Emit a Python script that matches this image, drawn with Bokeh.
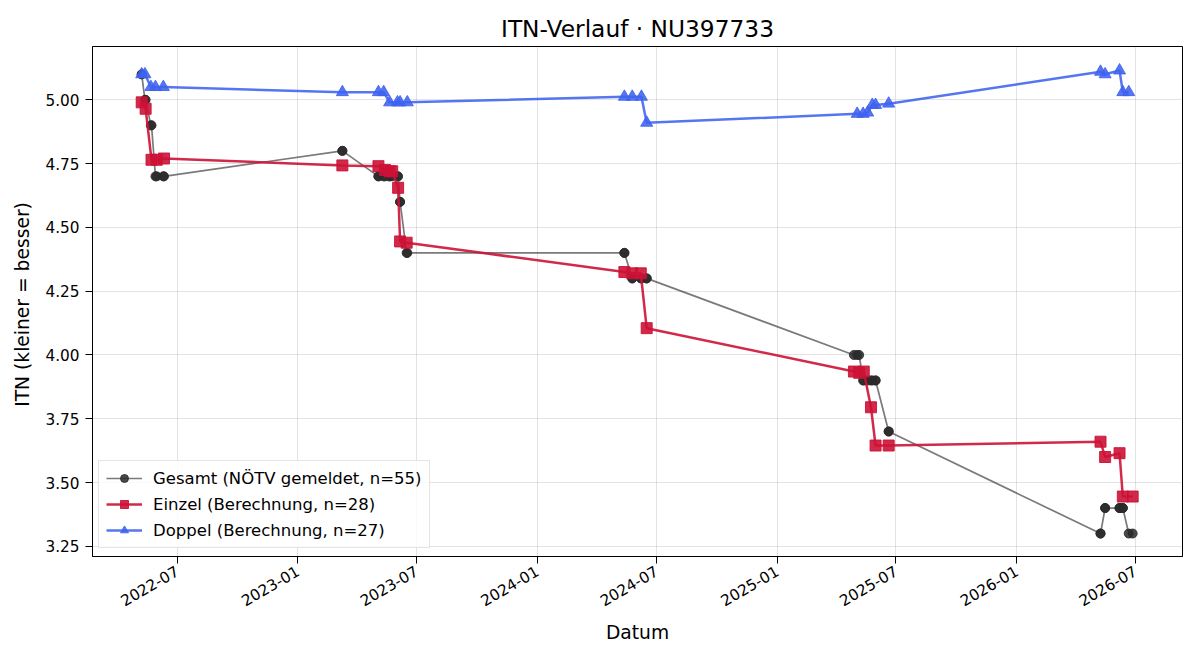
import math
import pandas as pd
from bokeh.plotting import figure
from bokeh.models import (ColumnDataSource, Range1d, FixedTicker, DatetimeTickFormatter,
                          NumeralTickFormatter, Legend, LegendItem)
from bokeh.embed import file_html
from bokeh.resources import INLINE

# --- data -------------------------------------------------------------------
gesamt_dates = [
    "2022-05-08", "2022-05-08", "2022-05-13", "2022-05-14", "2022-05-22", "2022-05-23",
    "2022-05-29", "2022-05-31", "2022-06-10", "2022-06-11",
    "2023-03-10", "2023-03-10", "2023-05-04", "2023-05-04", "2023-05-12", "2023-05-14",
    "2023-05-21", "2023-05-21", "2023-05-25", "2023-06-02", "2023-06-03", "2023-06-06",
    "2023-06-06", "2023-06-16", "2023-06-17",
    "2024-05-13", "2024-05-13", "2024-05-25", "2024-05-25", "2024-06-07", "2024-06-08",
    "2024-06-16", "2024-06-16",
    "2025-04-28", "2025-05-03", "2025-05-06", "2025-05-12", "2025-05-13", "2025-05-19",
    "2025-05-24", "2025-05-26", "2025-05-31", "2025-05-31", "2025-06-20", "2025-06-20",
    "2026-05-09", "2026-05-09", "2026-05-16", "2026-05-16", "2026-06-07", "2026-06-07",
    "2026-06-12", "2026-06-12", "2026-06-21", "2026-06-27",
]
gesamt_itn = [
    5.10, 5.10, 5.00, 5.00, 4.90, 4.90, 4.70, 4.70, 4.70, 4.70,
    4.80, 4.80, 4.70, 4.70, 4.70, 4.70, 4.70, 4.70, 4.70, 4.70, 4.70, 4.60, 4.60, 4.40, 4.40,
    4.40, 4.40, 4.30, 4.30, 4.30, 4.30, 4.30, 4.30,
    4.00, 4.00, 4.00, 3.90, 3.90, 3.90, 3.90, 3.90, 3.90, 3.90, 3.70, 3.70,
    3.30, 3.30, 3.40, 3.40, 3.40, 3.40, 3.40, 3.40, 3.30, 3.30,
]

einzel_dates = [
    "2022-05-08", "2022-05-14", "2022-05-23", "2022-05-31", "2022-06-11",
    "2023-03-10", "2023-05-04", "2023-05-14", "2023-05-21", "2023-05-25", "2023-06-03",
    "2023-06-06", "2023-06-16",
    "2024-05-13", "2024-05-25", "2024-06-07", "2024-06-16",
    "2025-04-28", "2025-05-06", "2025-05-13", "2025-05-24", "2025-05-31", "2025-06-20",
    "2026-05-09", "2026-05-16", "2026-06-07", "2026-06-12", "2026-06-27",
]
einzel_itn = [
    4.990, 4.965, 4.765, 4.765, 4.770,
    4.743, 4.740, 4.725, 4.720, 4.720, 4.655, 4.445, 4.440,
    4.325, 4.320, 4.320, 4.105,
    3.935, 3.930, 3.935, 3.795, 3.645, 3.645,
    3.660, 3.600, 3.615, 3.445, 3.445,
]

doppel_dates = [
    "2022-05-08", "2022-05-13", "2022-05-22", "2022-05-29", "2022-06-10",
    "2023-03-10", "2023-05-04", "2023-05-12", "2023-05-21", "2023-06-02", "2023-06-06",
    "2023-06-17",
    "2024-05-13", "2024-05-25", "2024-06-08", "2024-06-16",
    "2025-05-03", "2025-05-12", "2025-05-19", "2025-05-26", "2025-05-31", "2025-06-20",
    "2026-05-09", "2026-05-16", "2026-06-07", "2026-06-12", "2026-06-21",
]
doppel_itn = [
    5.100, 5.100, 5.050, 5.050, 5.050,
    5.030, 5.030, 5.030, 4.990, 4.990, 4.990, 4.990,
    5.012, 5.012, 5.012, 4.910,
    4.945, 4.945, 4.950, 4.980, 4.980, 4.985,
    5.110, 5.100, 5.115, 5.030, 5.030,
]

x_tick_dates = ["2022-07-01", "2023-01-01", "2023-07-01", "2024-01-01", "2024-07-01",
                "2025-01-01", "2025-07-01", "2026-01-01", "2026-07-01"]
y_ticks = [3.25, 3.50, 3.75, 4.00, 4.25, 4.50, 4.75, 5.00]

FONT = "DejaVu Sans"

src_g = ColumnDataSource(dict(x=pd.to_datetime(gesamt_dates), y=gesamt_itn))
src_e = ColumnDataSource(dict(x=pd.to_datetime(einzel_dates), y=einzel_itn))
src_d = ColumnDataSource(dict(x=pd.to_datetime(doppel_dates), y=doppel_itn))

p = figure(width=1200, height=660, x_axis_type="datetime",
           output_backend="svg", toolbar_location=None,
           x_range=Range1d(pd.Timestamp("2022-02-22"), pd.Timestamp("2026-09-11")),
           y_range=Range1d(3.21, 5.209),
           min_border_left=92, min_border_right=18, min_border_top=46, min_border_bottom=104)

p.title.text = "ITN-Verlauf · NU397733"
p.title.align = "center"
p.title.text_font = FONT
p.title.text_font_size = "23.3px"
p.title.text_font_style = "normal"
p.title.text_color = "black"
p.title.standoff = 10

p.outline_line_color = "black"
p.outline_line_alpha = 1
p.outline_line_width = 1
p.background_fill_color = "white"
p.border_fill_color = "white"

# axes
tick_ms = [pd.Timestamp(d).value / 1e6 for d in x_tick_dates]
p.xaxis.ticker = FixedTicker(ticks=tick_ms)
fmt = "%Y-%m"
p.xaxis.formatter = DatetimeTickFormatter(
    microseconds=fmt, milliseconds=fmt, seconds=fmt, minsec=fmt, minutes=fmt,
    hourmin=fmt, hours=fmt, days=fmt, months=fmt, years=fmt)
p.xaxis.major_label_orientation = math.pi / 6
p.yaxis.ticker = FixedTicker(ticks=y_ticks)
p.yaxis.formatter = NumeralTickFormatter(format="0.00")

p.xaxis.axis_label = "Datum"
p.yaxis.axis_label = "ITN  (kleiner = besser)"
for ax in (p.xaxis, p.yaxis):
    ax.axis_label_text_font = FONT
    ax.axis_label_text_font_size = "18.7px"
    ax.axis_label_text_font_style = "normal"
    ax.axis_label_text_color = "black"
    ax.major_label_text_font = FONT
    ax.major_label_text_font_size = "15.3px"
    ax.major_label_text_color = "black"
    ax.axis_line_color = "black"
    ax.major_tick_line_color = "black"
    ax.major_tick_out = 7
    ax.major_tick_in = 0
    ax.minor_tick_line_color = None
p.yaxis.major_label_standoff = 6
p.xaxis.major_label_standoff = 6
p.xaxis.axis_label_standoff = 7
p.yaxis.axis_label_standoff = 9

for g in (p.xgrid, p.ygrid):
    g.grid_line_color = "#b0b0b0"
    g.grid_line_alpha = 0.35
    g.grid_line_width = 1

# series
g_line = p.line("x", "y", source=src_g, line_color="#333333", line_alpha=0.65, line_width=1.7)
g_pts = p.scatter("x", "y", source=src_g, marker="circle", size=9,
                  fill_color="#2a2a2a", fill_alpha=0.85, line_color="#2a2a2a", line_alpha=0.85)

e_line = p.line("x", "y", source=src_e, line_color="#cc1236", line_alpha=0.9, line_width=2.5)
e_pts = p.scatter("x", "y", source=src_e, marker="square", size=11,
                  fill_color="#cc1236", fill_alpha=0.9, line_color="#cc1236", line_alpha=0.9)

d_line = p.line("x", "y", source=src_d, line_color="#3f63ef", line_alpha=0.88, line_width=2.5)
d_pts = p.scatter("x", "y", source=src_d, marker="triangle", size=12,
                  fill_color="#3f63ef", fill_alpha=0.88, line_color="#3f63ef", line_alpha=0.88)

legend = Legend(items=[
    LegendItem(label="Gesamt (NÖTV gemeldet, n=55)", renderers=[g_line, g_pts]),
    LegendItem(label="Einzel (Berechnung, n=28)", renderers=[e_line, e_pts]),
    LegendItem(label="Doppel (Berechnung, n=27)", renderers=[d_line, d_pts]),
])
legend.location = (6, 8)
legend.margin = 0
legend.padding = 7
legend.spacing = 6
legend.glyph_width = 36
legend.glyph_height = 20
legend.label_height = 20
legend.label_standoff = 11
legend.label_text_font = FONT
legend.label_text_font_size = "16.5px"
legend.label_text_color = "black"
legend.border_line_color = "#cccccc"
legend.border_line_width = 1
legend.background_fill_color = "white"
legend.background_fill_alpha = 0.8
p.add_layout(legend, "center")

open("out.html", "w").write(file_html(p, INLINE))
